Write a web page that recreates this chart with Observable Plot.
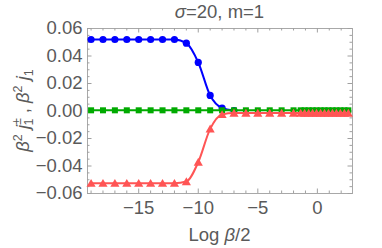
<!DOCTYPE html>
<html>
<head>
<meta charset="utf-8">
<script src="https://cdn.jsdelivr.net/npm/d3@7"></script>
<script src="https://cdn.jsdelivr.net/npm/@observablehq/plot@0.6"></script>
<style>
  html, body { margin: 0; padding: 0; background: white; }
</style>
</head>
<body>
<div id="chart"></div>
<script>
// ---- data ----
const logB = [-19,-18,-17,-16,-15,-14,-13,-12,-11,-10,-9,-8,-7,-6,-5,-4,-3,-2,
  -1.4,-1.07,-0.73,-0.4,-0.07,0.27,0.6,0.93,1.27,1.6,1.93,2.27,2.6];
const blueX = [-19,-18,-17,-16,-15,-14,-13,-12,-11,-10,-9,-8,-7];
const blueY = [0.052,0.052,0.052,0.052,0.052,0.052,0.052,0.052,0.0493,0.0353,0.0113,0.0022,0.0003];
const redY = [-0.0525,-0.0525,-0.0525,-0.0525,-0.0525,-0.0525,-0.0525,-0.0525,-0.0513,-0.0372,-0.013,-0.0025,
  -0.0015,-0.0015,-0.0015,-0.0015,-0.0015,-0.0015,
  -0.0015,-0.0015,-0.0015,-0.0015,-0.0015,-0.0015,-0.0015,-0.0015,-0.0015,-0.0015,-0.0015,-0.0015,-0.0015];
const greenY = [0.0005,0.0005,0.0005,0.0005,0.0005,0.0005,0.0005,0.0005,0.0005,0.0005,0.0005,0.0005,
  0.0005,0.0005,0.0005,0.0005,0.0005,0.0005,
  0.0005,0.0005,0.0005,0.0005,0.0005,0.0005,0.0005,0.0005,0.0005,0.0005,0.0005,0.0005,0.0005];
const xMajor = [-15,-10,-5,0];
const xMinor = [-19,-18,-17,-16,-14,-13,-12,-11,-9,-8,-7,-6,-4,-3,-2,-1,1,2];
const yMajor = [-0.06,-0.04,-0.02,0,0.02,0.04,0.06];
const yMinor = [-0.055,-0.05,-0.045,-0.035,-0.03,-0.025,-0.015,-0.01,-0.005,
  0.005,0.01,0.015,0.025,0.03,0.035,0.045,0.05,0.055];

const blue = blueX.map((x, i) => ({x, y: blueY[i]}));
const red = logB.map((x, i) => ({x, y: redY[i]}));
const green = logB.map((x, i) => ({x, y: greenY[i]}));

const W = 382, H = 248, mL = 87, mR = 30, mT = 28, mB = 55;
const pw = W - mL - mR, ph = H - mT - mB;
const tickCol = "#a0a0a0";
const majL = 4.5, minL = 2.5;

const plot = Plot.plot({
  width: W, height: H,
  marginLeft: mL, marginRight: mR, marginTop: mT, marginBottom: mB,
  x: {domain: [-19.3, 2.95]},
  y: {domain: [-0.06, 0.06]},
  style: {fontFamily: "'Liberation Sans', Arial, sans-serif", fontSize: "18.5px", color: "#5a5a5a", background: "white"},
  marks: [
    Plot.frame({stroke: "#a8a8a8"}),
    // bottom / top ticks
    Plot.ruleX(xMajor, {stroke: tickCol, insetTop: ph - majL}),
    Plot.ruleX(xMinor, {stroke: tickCol, insetTop: ph - minL}),
    Plot.ruleX(xMajor, {stroke: tickCol, insetBottom: ph - majL}),
    Plot.ruleX(xMinor, {stroke: tickCol, insetBottom: ph - minL}),
    // left / right ticks
    Plot.ruleY(yMajor, {stroke: tickCol, insetRight: pw - majL}),
    Plot.ruleY(yMinor, {stroke: tickCol, insetRight: pw - minL}),
    Plot.ruleY(yMajor, {stroke: tickCol, insetLeft: pw - majL}),
    Plot.ruleY(yMinor, {stroke: tickCol, insetLeft: pw - minL}),
    Plot.axisX(xMajor, {tickSize: 0, tickPadding: 7, tickFormat: d3.format("d"), label: null, fill: "#5a5a5a"}),
    Plot.axisY(yMajor, {tickSize: 0, tickPadding: 5, tickFormat: d3.format(".2f"), label: null, fill: "#5a5a5a"}),
    // series
    Plot.line(blue, {x: "x", y: "y", stroke: "#0000ff", strokeWidth: 2, curve: "monotone-x"}),
    Plot.dot(blue, {x: "x", y: "y", fill: "#0000ff", r: 3.6, symbol: "circle"}),
    Plot.line(green, {x: "x", y: "y", stroke: "#00aa00", strokeWidth: 2}),
    Plot.dot(green, {x: "x", y: "y", fill: "#00aa00", r: 3.4, symbol: "square"}),
    Plot.line(red, {x: "x", y: "y", stroke: "#ff5555", strokeWidth: 2, curve: "monotone-x"}),
    Plot.dot(red, {x: "x", y: "y", fill: "#ff5555", r: 3.4, symbol: "triangle", dy: 1})
  ]
});

document.getElementById("chart").appendChild(plot);

const svg = d3.select(plot);
const cx = mL + pw / 2;
const font = "'Liberation Sans', Arial, sans-serif";

// title
const t = svg.append("text").attr("x", cx).attr("y", 18).attr("text-anchor", "middle")
  .attr("font-family", font).attr("font-size", 18.5).attr("fill", "#5a5a5a");
t.append("tspan").attr("font-style", "italic").text("σ");
t.append("tspan").text("=20, m=1");

// x label
const xl = svg.append("text").attr("x", cx).attr("y", 241).attr("text-anchor", "middle")
  .attr("font-family", font).attr("font-size", 18.5).attr("fill", "#5a5a5a");
xl.append("tspan").text("Log ");
xl.append("tspan").attr("font-style", "italic").text("β");
xl.append("tspan").text("/2");

// y label
const yl = svg.append("text").attr("transform", `translate(29,${mT + ph / 2}) rotate(-90)`)
  .attr("text-anchor", "middle").attr("font-family", font).attr("font-size", 18.5).attr("fill", "#5a5a5a");
yl.append("tspan").attr("font-style", "italic").text("β");
yl.append("tspan").attr("font-size", 12.5).attr("dy", -7).text("2");
yl.append("tspan").attr("font-style", "italic").attr("dy", 7).text(" j");
yl.append("tspan").attr("font-size", 12.5).attr("dy", -8).text("±");
yl.append("tspan").attr("font-size", 12.5).attr("dx", -7.3).attr("dy", 12).text("1");
yl.append("tspan").attr("dy", -4).text(" , ");
yl.append("tspan").attr("font-style", "italic").text("β");
yl.append("tspan").attr("font-size", 12.5).attr("dy", -7).text("2");
yl.append("tspan").attr("font-style", "italic").attr("dy", 7).text(" j");
yl.append("tspan").attr("font-size", 12.5).attr("dy", 4).text("1");
</script>
</body>
</html>
